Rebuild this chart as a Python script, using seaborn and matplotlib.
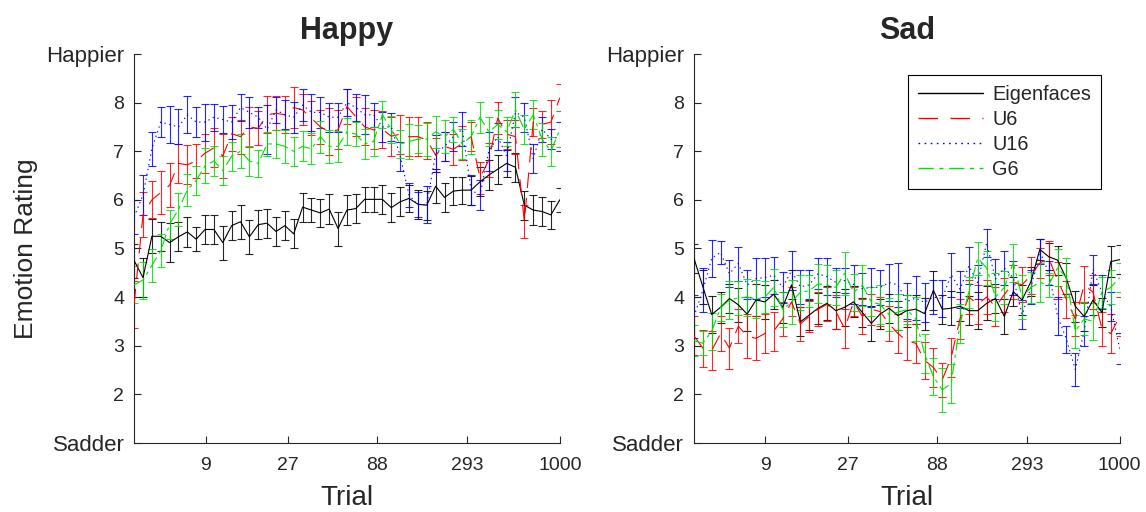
import pandas as pd
import matplotlib.pyplot as plt
import seaborn as sns
from matplotlib.lines import Line2D
from matplotlib.ticker import NullLocator

# trial bins (log spaced, 49 bins per panel)
TRIALS = [3.48, 3.92, 4.41, 4.96, 5.58, 6.28, 7.06, 7.95, 8.94, 10.06,
          11.32, 12.74, 14.33, 16.12, 18.14, 20.41, 22.97, 25.84, 29.07, 32.71,
          36.81, 41.42, 46.60, 52.43, 58.99, 66.37, 74.68, 84.04, 94.56, 106.4,
          119.7, 134.7, 151.5, 170.5, 191.9, 215.9, 242.9, 273.3, 307.5, 346.0,
          389.3, 438.0, 492.8, 554.5, 624.0, 702.2, 790.0, 888.8, 1000.0]

METHODS = ["Eigenfaces", "U6", "U16", "G6"]
PANELS = ["Happy", "Sad"]

X_TICKS = [9, 27, 88, 293, 1000]
X_TICK_LABELS = ["9", "27", "88", "293", "1000"]
Y_TICKS = [1, 2, 3, 4, 5, 6, 7, 8, 9]
Y_TICK_LABELS = ["Sadder", "2", "3", "4", "5", "6", "7", "8", "Happier"]

# --- Happy panel ---
happy_eig = [4.75, 4.40, 5.25, 5.25, 5.12, 5.24, 5.34, 5.19, 5.39, 5.39,
             5.12, 5.47, 5.55, 5.24, 5.49, 5.52, 5.35, 5.47, 5.30, 5.85,
             5.79, 5.73, 5.81, 5.41, 5.79, 5.82, 6.01, 6.01, 6.01, 5.84,
             5.96, 6.03, 5.91, 5.89, 6.28, 6.05, 6.18, 6.20, 6.20, 6.37,
             6.51, 6.63, 6.75, 6.67, 5.89, 5.79, 5.76, 5.69, 6.00]
happy_eig_err = [0.35, 0.40, 0.35, 0.30, 0.40, 0.30, 0.30, 0.25, 0.30, 0.30,
                 0.35, 0.30, 0.35, 0.35, 0.30, 0.30, 0.30, 0.30, 0.30, 0.30,
                 0.25, 0.28, 0.30, 0.35, 0.30, 0.30, 0.25, 0.25, 0.30, 0.30,
                 0.30, 0.28, 0.30, 0.30, 0.35, 0.30, 0.28, 0.28, 0.30, 0.30,
                 0.30, 0.30, 0.28, 0.30, 0.30, 0.30, 0.30, 0.28, 0.25]
happy_u6 = [3.85, 5.70, 6.00, 6.15, 6.30, 6.75, 6.72, 6.80, 6.96, 7.07,
            6.90, 7.36, 7.30, 7.50, 7.47, 7.75, 7.78, 7.75, 7.90, 7.85,
            7.68, 7.50, 7.40, 7.44, 7.92, 7.71, 7.50, 7.44, 7.45, 7.31,
            7.35, 7.30, 7.30, 7.23, 6.92, 7.10, 7.04, 7.16, 7.30, 6.45,
            6.82, 7.68, 7.35, 7.30, 5.55, 7.60, 7.55, 7.60, 8.10]
happy_u6_err = [0.48, 0.46, 0.38, 0.45, 0.45, 0.40, 0.40, 0.35, 0.40, 0.40,
                0.45, 0.35, 0.35, 0.42, 0.35, 0.38, 0.35, 0.38, 0.42, 0.32,
                0.35, 0.35, 0.48, 0.40, 0.35, 0.40, 0.38, 0.40, 0.38, 0.40,
                0.40, 0.40, 0.40, 0.38, 0.35, 0.30, 0.32, 0.35, 0.30, 0.32,
                0.35, 0.33, 0.30, 0.35, 0.34, 0.28, 0.28, 0.45, 0.28]
happy_u16 = [5.65, 6.10, 7.05, 7.60, 7.55, 7.50, 7.75, 7.60, 7.60, 7.70,
             7.65, 7.60, 7.90, 7.80, 7.70, 7.45, 7.85, 7.75, 7.70, 7.95,
             7.80, 7.80, 7.70, 7.70, 8.00, 7.90, 7.75, 7.75, 7.50, 7.50,
             6.90, 6.10, 5.90, 5.90, 6.95, 7.10, 7.30, 7.45, 6.20, 6.10,
             7.00, 7.30, 6.90, 7.80, 7.70, 6.85, 7.45, 7.25, 7.30]
happy_u16_err = [0.35, 0.42, 0.35, 0.30, 0.38, 0.36, 0.38, 0.30, 0.38, 0.28,
                 0.28, 0.35, 0.28, 0.32, 0.22, 0.50, 0.26, 0.30, 0.32, 0.32,
                 0.38, 0.32, 0.30, 0.30, 0.27, 0.28, 0.40, 0.25, 0.30, 0.28,
                 0.30, 0.25, 0.26, 0.38, 0.38, 0.30, 0.30, 0.35, 0.31, 0.30,
                 0.40, 0.28, 0.30, 0.31, 0.30, 0.30, 0.26, 0.20, 0.30]
happy_g6 = [4.25, 4.35, 4.65, 4.95, 5.50, 5.80, 6.20, 6.40, 6.70, 6.80,
            6.60, 6.90, 7.00, 6.80, 6.75, 7.15, 7.15, 7.10, 7.00, 7.10,
            7.05, 7.30, 7.10, 7.10, 7.40, 7.35, 7.15, 7.20, 7.75, 7.45,
            7.15, 7.20, 7.25, 7.25, 7.40, 7.30, 7.45, 7.15, 7.30, 7.70,
            7.40, 7.55, 7.40, 7.85, 7.45, 7.75, 7.25, 7.00, 7.45]
happy_g6_err = [0.38, 0.38, 0.33, 0.34, 0.30, 0.34, 0.33, 0.30, 0.36, 0.30,
                0.30, 0.30, 0.35, 0.30, 0.28, 0.25, 0.28, 0.34, 0.30, 0.31,
                0.32, 0.33, 0.34, 0.32, 0.28, 0.25, 0.30, 0.30, 0.28, 0.28,
                0.28, 0.36, 0.28, 0.34, 0.33, 0.34, 0.26, 0.30, 0.35, 0.32,
                0.30, 0.30, 0.30, 0.36, 0.30, 0.30, 0.34, 0.30, 0.37]

# --- Sad panel ---
sad_eig = [4.80, 4.21, 3.64, 3.79, 3.97, 3.84, 3.65, 3.94, 3.90, 4.06,
           3.79, 4.25, 3.49, 3.63, 3.77, 3.87, 3.72, 3.79, 3.90, 3.68,
           3.46, 3.65, 3.77, 3.62, 3.72, 3.75, 3.66, 4.14, 3.75, 3.77,
           3.81, 3.72, 3.72, 3.87, 3.97, 3.60, 4.11, 3.94, 4.32, 4.98,
           4.83, 4.76, 4.38, 3.81, 3.60, 3.94, 3.68, 4.73, 4.77]
sad_eig_err = [0.30, 0.35, 0.38, 0.32, 0.30, 0.35, 0.35, 0.32, 0.35, 0.30,
               0.32, 0.30, 0.30, 0.30, 0.32, 0.35, 0.38, 0.38, 0.32, 0.30,
               0.36, 0.30, 0.30, 0.30, 0.33, 0.30, 0.33, 0.40, 0.30, 0.35,
               0.30, 0.30, 0.38, 0.35, 0.30, 0.35, 0.30, 0.30, 0.30, 0.22,
               0.28, 0.30, 0.32, 0.32, 0.30, 0.30, 0.30, 0.32, 0.30]
sad_u6 = [3.20, 2.95, 2.90, 3.25, 2.95, 3.40, 3.20, 3.15, 3.25, 3.30,
          3.55, 3.90, 3.45, 3.60, 3.75, 3.85, 3.70, 3.35, 3.90, 3.60,
          3.75, 3.70, 3.45, 3.25, 3.10, 3.05, 2.70, 2.55, 2.30, 2.75,
          3.55, 4.00, 3.85, 4.00, 3.80, 4.05, 4.30, 4.25, 4.45, 4.70,
          4.80, 4.35, 3.95, 3.55, 4.25, 4.10, 3.35, 3.25, 3.60]
sad_u6_err = [0.40, 0.38, 0.40, 0.35, 0.42, 0.35, 0.45, 0.45, 0.40, 0.40,
              0.35, 0.30, 0.35, 0.32, 0.35, 0.35, 0.35, 0.40, 0.30, 0.35,
              0.32, 0.30, 0.36, 0.40, 0.40, 0.40, 0.38, 0.40, 0.35, 0.40,
              0.42, 0.35, 0.40, 0.35, 0.40, 0.35, 0.35, 0.36, 0.38, 0.30,
              0.35, 0.38, 0.38, 0.35, 0.38, 0.35, 0.35, 0.40, 0.40]
sad_u16 = [3.60, 4.14, 4.80, 4.92, 4.48, 4.69, 4.25, 4.38, 4.40, 4.45,
           4.20, 4.54, 4.21, 4.25, 4.48, 4.42, 4.30, 4.34, 4.26, 4.17,
           4.20, 4.20, 4.30, 4.25, 3.91, 3.98, 3.89, 4.00, 3.97, 4.46,
           4.16, 4.64, 4.30, 5.11, 4.37, 4.60, 4.40, 3.64, 4.20, 4.94,
           4.50, 3.61, 3.13, 2.51, 3.30, 4.57, 4.10, 3.80, 2.94]
sad_u16_err = [0.45, 0.45, 0.38, 0.23, 0.28, 0.35, 0.30, 0.42, 0.40, 0.38,
               0.32, 0.40, 0.35, 0.30, 0.32, 0.38, 0.30, 0.25, 0.40, 0.33,
               0.40, 0.36, 0.38, 0.45, 0.37, 0.45, 0.40, 0.35, 0.38, 0.45,
               0.38, 0.38, 0.35, 0.28, 0.42, 0.35, 0.35, 0.30, 0.35, 0.25,
               0.25, 0.40, 0.28, 0.33, 0.30, 0.30, 0.35, 0.30, 0.32]
sad_g6 = [3.10, 3.05, 3.30, 3.78, 3.94, 3.98, 4.00, 3.96, 4.00, 4.20,
          3.74, 3.90, 4.10, 4.13, 4.27, 4.25, 4.20, 4.49, 4.10, 4.24,
          3.90, 3.85, 3.64, 3.69, 3.74, 3.55, 2.84, 2.36, 2.09, 2.22,
          3.46, 4.10, 4.80, 4.60, 4.00, 4.20, 4.70, 4.00, 4.20, 4.30,
          4.25, 4.60, 4.40, 3.30, 3.55, 3.50, 4.10, 4.20, 4.40]
sad_g6_err = [0.32, 0.25, 0.38, 0.28, 0.40, 0.35, 0.38, 0.40, 0.33, 0.38,
              0.36, 0.45, 0.36, 0.33, 0.40, 0.40, 0.36, 0.44, 0.38, 0.42,
              0.30, 0.40, 0.34, 0.37, 0.30, 0.45, 0.40, 0.38, 0.45, 0.40,
              0.40, 0.32, 0.34, 0.35, 0.50, 0.34, 0.40, 0.45, 0.32, 0.40,
              0.24, 0.38, 0.40, 0.34, 0.34, 0.38, 0.32, 0.35, 0.30]

SERIES = {
    ("Happy", "Eigenfaces"): (happy_eig, happy_eig_err),
    ("Happy", "U6"): (happy_u6, happy_u6_err),
    ("Happy", "U16"): (happy_u16, happy_u16_err),
    ("Happy", "G6"): (happy_g6, happy_g6_err),
    ("Sad", "Eigenfaces"): (sad_eig, sad_eig_err),
    ("Sad", "U6"): (sad_u6, sad_u6_err),
    ("Sad", "U16"): (sad_u16, sad_u16_err),
    ("Sad", "G6"): (sad_g6, sad_g6_err),
}

rows = []
for (panel, method), (vals, errs) in SERIES.items():
    for t, v, e in zip(TRIALS, vals, errs):
        rows.append({"panel": panel, "method": method, "trial": t, "rating": v, "err": e})
df = pd.DataFrame(rows)

COLORS = {"Eigenfaces": "#000000", "U6": "#ff0000", "U16": "#0000ff", "G6": "#00e000"}
DASHES = {"Eigenfaces": "", "U6": (14, 9), "U16": (1.2, 3.2), "G6": (11, 4, 3, 4)}

sns.set_style("ticks")
plt.rcParams["font.family"] = ["Liberation Sans", "DejaVu Sans"]

fig, axes = plt.subplots(1, 2, figsize=(11.46, 5.12), dpi=100)
fig.subplots_adjust(left=0.117, right=0.977, top=0.8945, bottom=0.135, wspace=0.315)

for ax, panel in zip(axes, PANELS):
    sub = df[df["panel"] == panel]
    # error bars first, mean lines on top
    for m in METHODS:
        s = sub[sub["method"] == m]
        ax.errorbar(s["trial"], s["rating"], yerr=s["err"], fmt="none",
                    ecolor=COLORS[m], elinewidth=0.8, capsize=2.6, capthick=0.8,
                    alpha=0.85, zorder=2)
    sns.lineplot(data=sub, x="trial", y="rating", hue="method", style="method",
                 hue_order=METHODS, style_order=METHODS, palette=COLORS,
                 dashes=DASHES, linewidth=0.8, errorbar=None,
                 legend=False, ax=ax, zorder=3)

    ax.set_xscale("log")
    ax.set_xlim(3.48, 1000)
    ax.set_xticks(X_TICKS)
    ax.set_xticklabels(X_TICK_LABELS)
    ax.xaxis.set_minor_locator(NullLocator())
    ax.set_ylim(1, 9)
    ax.set_yticks(Y_TICKS)
    ax.set_yticklabels(Y_TICK_LABELS)
    ax.tick_params(axis="both", direction="in", length=5, width=0.8, labelsize=14)
    ax.tick_params(axis="x", pad=10)
    ax.tick_params(axis="y", pad=7)
    for lab in ax.get_yticklabels():
        if lab.get_text() in ("Happier", "Sadder"):
            lab.set_fontsize(16)
    for sp in ["left", "bottom"]:
        ax.spines[sp].set_linewidth(0.8)
    sns.despine(ax=ax)

    ax.set_title(panel, fontsize=22, fontweight="bold", pad=11)
    ax.set_xlabel("Trial", fontsize=20, labelpad=8)
    ax.set_ylabel("Emotion Rating" if panel == "Happy" else "", fontsize=19, labelpad=6)

handles = [Line2D([], [], color=COLORS[m], lw=1.0,
                  dashes=DASHES[m] if DASHES[m] else (None, None)) for m in METHODS]
handles[0].set_linestyle("-")
leg = axes[1].legend(handles, METHODS, loc="upper right", bbox_to_anchor=(0.956, 0.946),
                     frameon=True, fancybox=False, edgecolor="black", framealpha=1,
                     fontsize=14.3, handlelength=3.3, labelspacing=0.3,
                     borderpad=0.5, handletextpad=0.45, borderaxespad=0)
leg.get_frame().set_linewidth(0.8)

plt.savefig("out.png", dpi=100)
plt.close()
